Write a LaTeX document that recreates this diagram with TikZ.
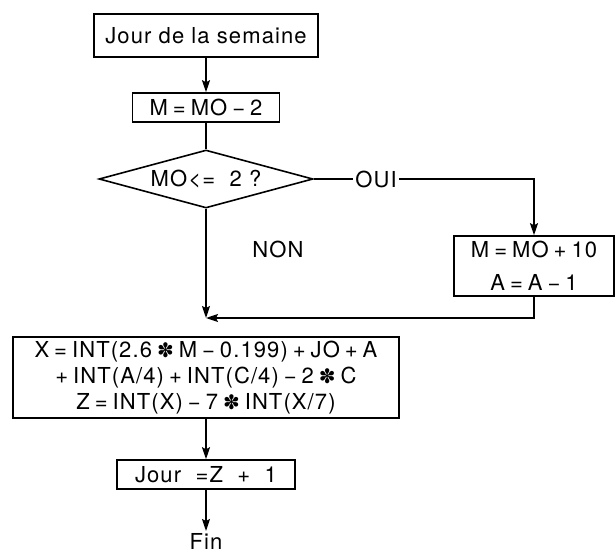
\documentclass[tikz,border=0pt]{standalone}
\usepackage{fontspec}
\setmainfont{TeX Gyre Heros}[LetterSpace=5]
\newfontfamily\symfont{DejaVu Sans}
\usetikzlibrary{arrows.meta,shapes.geometric}
\newcommand{\starop}{{\symfont\fontsize{20}{20}\selectfont ✽}}
\newcommand{\opsp}{\hspace{5pt}}
\begin{document}
\begin{tikzpicture}[x=1pt,y=-1pt,
  line width=1.6pt,
  every node/.style={font=\fontsize{22}{26}\selectfont},
  box/.style={draw,rectangle,inner sep=0pt,align=center},
  arr/.style={-{Stealth[length=12pt,width=8pt,inset=2pt]}},
  lbl/.style={inner sep=2pt}]
\useasboundingbox (0,0) rectangle (615,554);
\node[box,minimum width=224pt,minimum height=43pt] (b1) at (206,35.5) {Jour de la semaine};
\node[box,minimum width=147pt,minimum height=29pt] (b2) at (206,107.5) {M\opsp=\opsp MO\opsp−\opsp 2};
\node[draw,diamond,aspect=3.7,inner sep=0pt,minimum width=214pt,minimum height=58pt] (d) at (206,179) {MO<=~~2 ?};
\node[lbl] (oui) at (376,179) {OUI};
\node[lbl] (non) at (278,249) {NON};
\node[box,minimum width=160pt,minimum height=60pt,font=\fontsize{22}{33}\selectfont] (b3) at (534,266) {M\opsp=\opsp MO\opsp+\opsp 10\\A\opsp=\opsp A\opsp−\opsp 1};
\coordinate (m) at (206,318);
\node[box,minimum width=386pt,minimum height=81pt,font=\fontsize{22}{26}\selectfont] (b4) at (206,377.5)
  {X\opsp=\opsp INT(2.6\opsp\starop\opsp M\opsp−\opsp 0.199)\opsp+\opsp JO\opsp+\opsp A\\
   +\opsp INT(A/4)\opsp+\opsp INT(C/4)\opsp−\opsp 2\opsp\starop\opsp C\\
   Z\opsp=\opsp INT(X)\opsp−\opsp 7\opsp\starop\opsp INT(X/7)};
\node[box,minimum width=178pt,minimum height=29pt] (b5) at (206,474.5) {Jour ~=Z ~+~ 1};
\node[inner sep=2pt,anchor=north] (fin) at (206,531) {Fin};
\draw[arr] (b1) -- (b2);
\draw (b2) -- (d);
\draw (d.east) -- (oui.west);
\draw[arr] (oui.east) -| (b3.north);
\draw[arr] (d.south) -- (m);
\draw[arr] (b3.south) |- (m);
\draw[arr] (b4) -- (b5);
\draw[arr] (b5) -- (fin);
\end{tikzpicture}
\end{document}
